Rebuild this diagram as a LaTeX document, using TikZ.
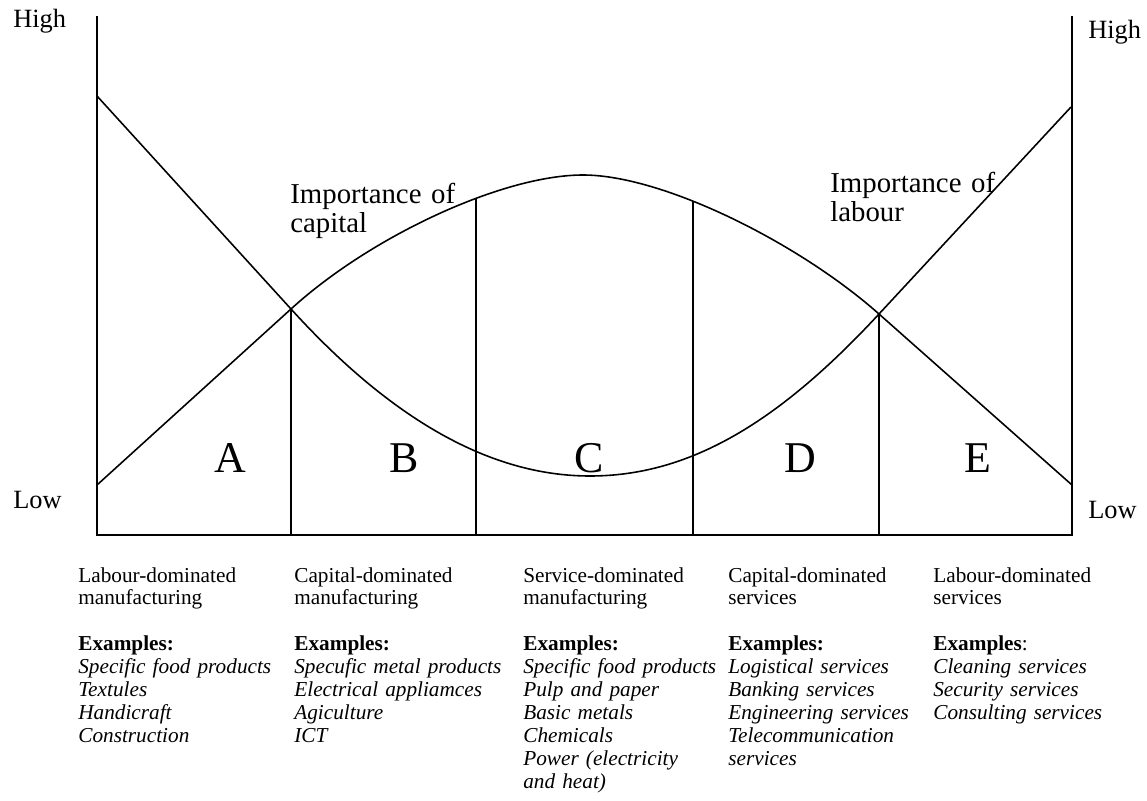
\documentclass[tikz,border=0pt]{standalone}
\usepackage{fontspec}
\setmainfont{Liberation Serif}
\usetikzlibrary{intersections}

\begin{document}
\begin{tikzpicture}[x=0.02cm,y=-0.02cm,
        axis/.style={line width=1.1pt},
        curve/.style={line width=0.9pt},
        lbl/.style={inner sep=0pt,anchor=base west,font=\fontsize{15}{17}\selectfont},
        note/.style={inner sep=0pt,anchor=base west,align=left,text width=6cm,font=\fontsize{16.4}{17}\selectfont},
        zone/.style={inner sep=0pt,anchor=base,font=\fontsize{25}{30}\selectfont},
        col/.style={inner sep=0pt,anchor=base west,align=left,text width=4.6cm,font=\fontsize{12.1}{13.04}\selectfont}]
        \useasboundingbox (0,0) rectangle (1147,801);
        % axes
        \draw[axis] (97,16) -- (97,535) -- (1072,535) -- (1072,16);
        \node[lbl] (hiL) at (13,28) {High};
        \node[lbl] (loL) at (13,508) {Low};
        \node[lbl] (hiR) at (1088,38) {High};
        \node[lbl] (loR) at (1088,518) {Low};
        % the two curves
        \coordinate (xl) at (291,309);
        \coordinate (xr) at (879,314);
        \draw[curve,name path=capital] (97,485) -- (xl)
            .. controls (371,236) and (503,175) .. (583,175)
            .. controls (663,175) and (799,243) .. (xr) -- (1072,485);
        \draw[curve,name path=labour] (97,96) -- (xl)
            .. controls (391,419) and (490,476) .. (590,476)
            .. controls (690,476) and (779,422) .. (xr) -- (1071,107);
        \node[note] (capnote) at (290,203) {Importance of\\capital};
        \node[note] (labnote) at (830,192) {Importance of\\labour};
        % dividers
        \path[name path=cutB] (476,100) -- (476,535);
        \path[name path=cutD] (693,100) -- (693,535);
        \path[name intersections={of=capital and cutB,by=tB}];
        \path[name intersections={of=capital and cutD,by=tD}];
        \draw[axis] (xl) -- (291,535);
        \draw[axis] (tB) -- (476,535);
        \draw[axis] (tD) -- (693,535);
        \draw[axis] (xr) -- (879,535);
        \node[zone] (zA) at (230,472) {A};
        \node[zone] (zB) at (404,472) {B};
        \node[zone] (zC) at (589,472) {C};
        \node[zone] (zD) at (800,472) {D};
        \node[zone] (zE) at (978,472) {E};
        % sector texts
        \node[col] (colA) at (78,582) {Labour-dominated\\manufacturing\\[\baselineskip]
            \textbf{Examples:}\\\textit{Specific food products}\\\textit{Textules}\\
            \textit{Handicraft}\\\textit{Construction}};
        \node[col] (colB) at (294,582) {Capital-dominated\\manufacturing\\[\baselineskip]
            \textbf{Examples:}\\\textit{Specufic metal products}\\\textit{Electrical appliamces}\\
            \textit{Agiculture}\\\textit{ICT}};
        \node[col] (colC) at (523,582) {Service-dominated\\manufacturing\\[\baselineskip]
            \textbf{Examples:}\\\textit{Specific food products}\\\textit{Pulp and paper}\\
            \textit{Basic metals}\\\textit{Chemicals}\\\textit{Power (electricity}\\\textit{and heat)}};
        \node[col] (colD) at (728,582) {Capital-dominated\\services\\[\baselineskip]
            \textbf{Examples:}\\\textit{Logistical services}\\\textit{Banking services}\\
            \textit{Engineering services}\\\textit{Telecommunication}\\\textit{services}};
        \node[col] (colE) at (933,582) {Labour-dominated\\services\\[\baselineskip]
            \textbf{Examples}:\\\textit{Cleaning services}\\\textit{Security services}\\
            \textit{Consulting services}};
\end{tikzpicture}
\end{document}
